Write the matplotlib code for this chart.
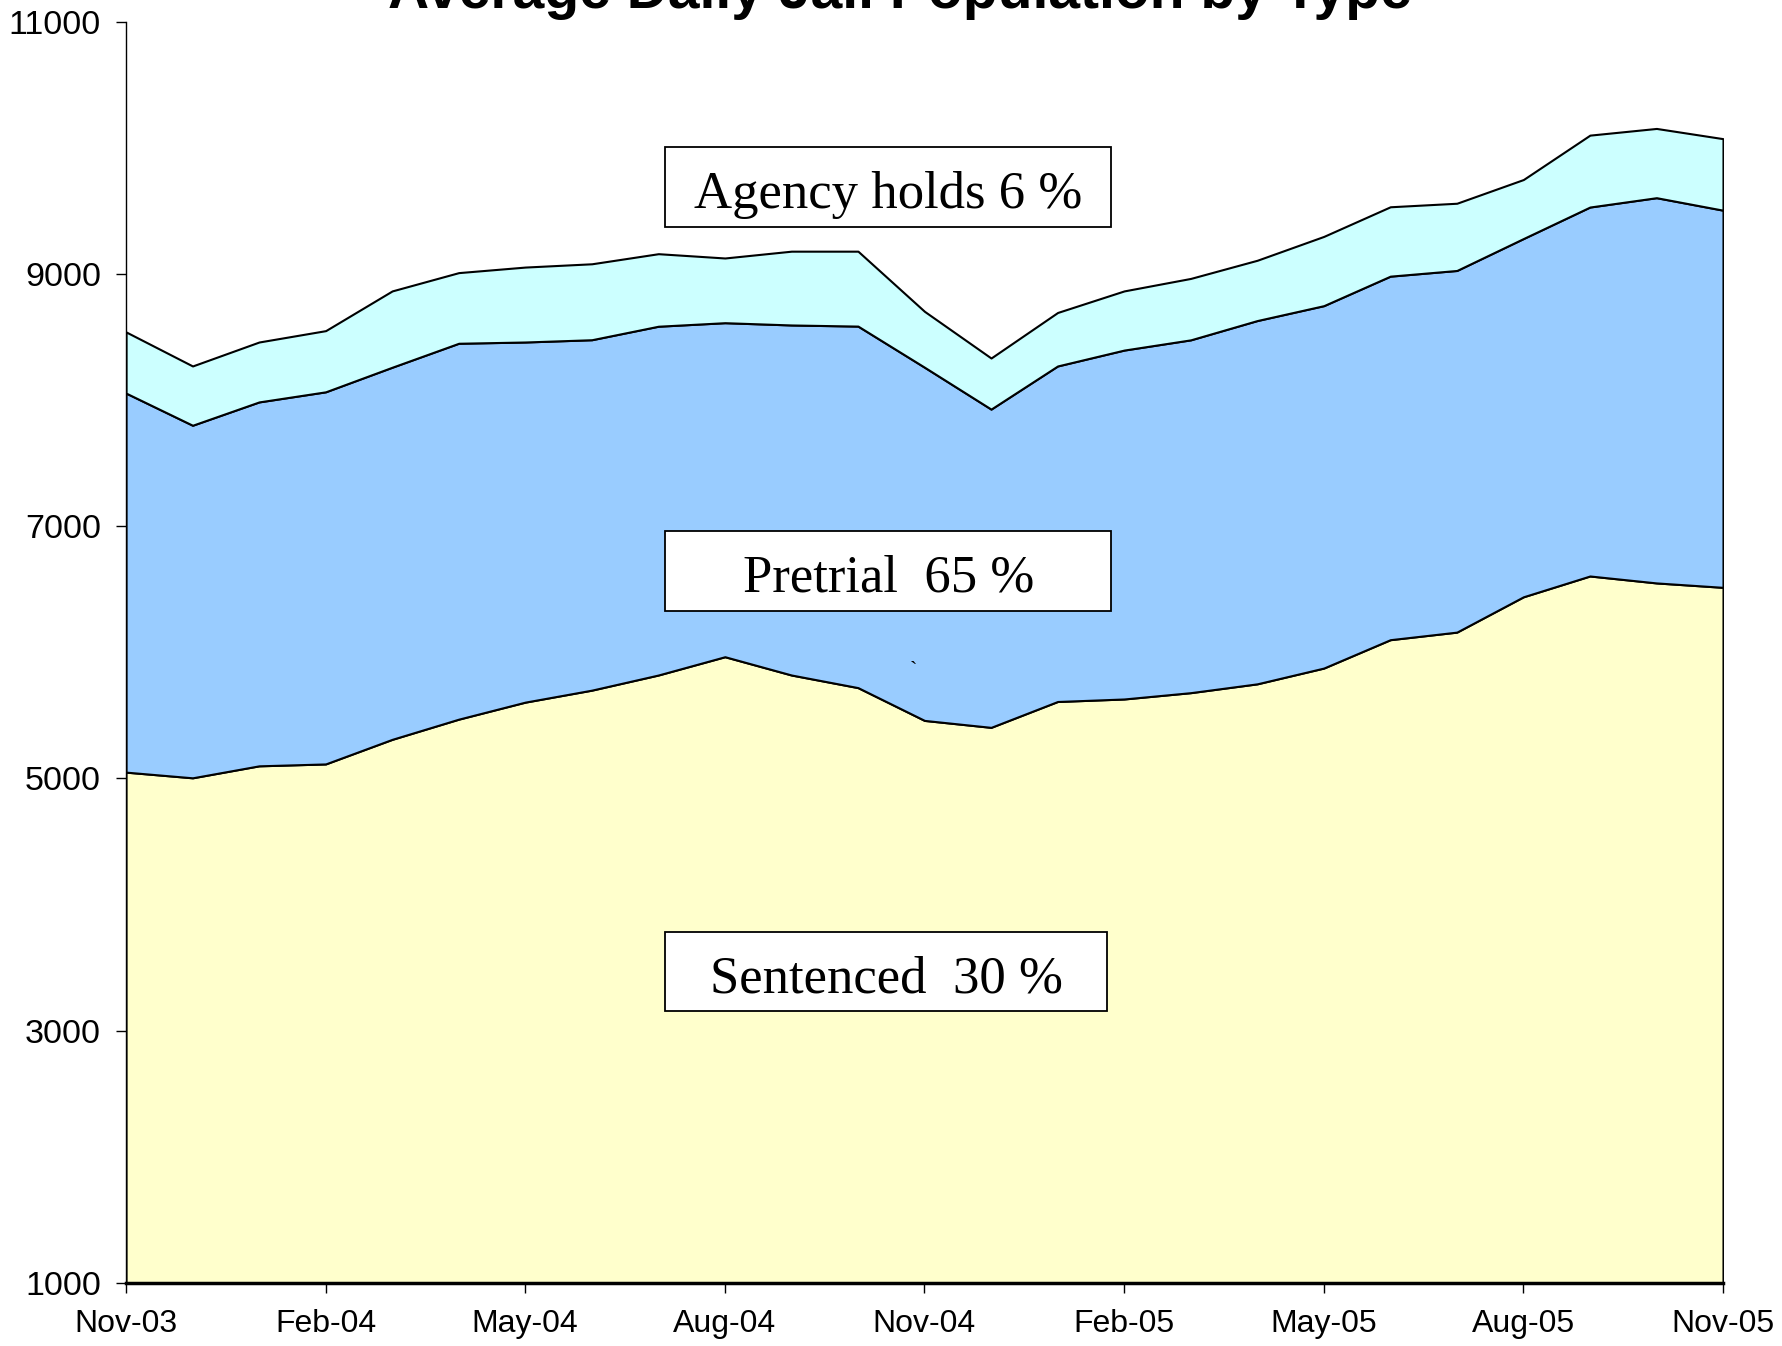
import matplotlib
matplotlib.use("Agg")
import matplotlib.pyplot as plt
from matplotlib.patches import Rectangle
import numpy as np

months = ["Nov-03", "Dec-03", "Jan-04", "Feb-04", "Mar-04", "Apr-04", "May-04", "Jun-04",
          "Jul-04", "Aug-04", "Sep-04", "Oct-04", "Nov-04", "Dec-04", "Jan-05", "Feb-05",
          "Mar-05", "Apr-05", "May-05", "Jun-05", "Jul-05", "Aug-05", "Sep-05", "Oct-05", "Nov-05"]
sentenced = [5050, 5005, 5100, 5115, 5310, 5470, 5605, 5700, 5820, 5965, 5820, 5720,
             5460, 5405, 5610, 5630, 5680, 5750, 5875, 6100, 6160, 6440, 6605, 6550, 6515]
pretrial_top = [8055, 7800, 7985, 8065, 8260, 8450, 8460, 8478, 8585, 8613, 8595, 8586,
                8260, 7928, 8270, 8396, 8477, 8630, 8748, 8982, 9027, 9280, 9530, 9604, 9505]
total_top = [8540, 8270, 8460, 8550, 8865, 9010, 9054, 9080, 9160, 9126, 9180, 9180,
             8703, 8333, 8694, 8865, 8964, 9108, 9297, 9532, 9560, 9748, 10100, 10153, 10072]
pretrial = [p - s for p, s in zip(pretrial_top, sentenced)]
agency = [t - p for t, p in zip(total_top, pretrial_top)]

series_labels = ["Sentenced  30 %", "Pretrial  65 %", "Agency holds 6 %"]
colors = ["#FFFFCC", "#99CCFF", "#CCFFFF"]
yticks = [1000, 3000, 5000, 7000, 9000, 11000]
xtick_idx = list(range(0, 25, 3))
y_min = 1000

W, H = 1782, 1346
fig = plt.figure(figsize=(W / 100, H / 100), dpi=100)
ax = fig.add_axes([126 / W, 1 - 1283 / H, (1723 - 126) / W, (1283 - 21.6) / H])

x = np.arange(len(months))
ax.stackplot(x, np.array(sentenced) - y_min, pretrial, agency,
             colors=colors, edgecolor='black', linewidth=1.5)
ax.set_ylim(0, yticks[-1] - y_min)
ax.set_yticks([v - y_min for v in yticks])
ax.set_yticklabels([str(v) for v in yticks], fontsize=24.5, family="Liberation Sans")
ax.set_xlim(0, 24)
ax.set_xticks(xtick_idx)
ax.set_xticklabels([months[i] for i in xtick_idx], fontsize=23, family="Liberation Sans")
ax.tick_params(axis='y', direction='out', length=7, width=1, pad=11)
ax.tick_params(axis='x', direction='out', length=7, width=1, pad=12)
ax.spines['top'].set_visible(False)
ax.spines['right'].set_visible(False)
ax.spines['left'].set_linewidth(1)
ax.spines['bottom'].set_linewidth(2.5)
ax.patch.set_alpha(0)

fig.text(900 / W, 1 - 8 / H, "Average Daily Jail Population by Type", ha='center', va='baseline',
         fontsize=41, fontweight='bold', family="Liberation Sans")

boxes = [
    (series_labels[2], 0.3375, 0.837, 0.617 - 0.3375, 0.9006 - 0.837),
    (series_labels[1], 0.3375, 0.533, 0.617 - 0.3375, 0.596 - 0.533),
    (series_labels[0], 0.3375, 0.216, 0.6145 - 0.3375, 0.278 - 0.216),
]
for label, bx, by, bw, bh in boxes:
    ax.add_patch(Rectangle((bx, by), bw, bh, transform=ax.transAxes, facecolor='white',
                           edgecolor='black', linewidth=1.3, zorder=5))
    ax.text(bx + bw / 2, by + bh * 0.235, label, transform=ax.transAxes, ha='center', va='baseline',
            fontsize=38, family="Liberation Serif", zorder=6)

ax.text((913 - 126) / 1597, 1 - (672 - 21.6) / 1261.4, "`", transform=ax.transAxes,
        ha='center', va='center', fontsize=16, family="Liberation Serif")

fig.savefig("out.png", dpi=100)
